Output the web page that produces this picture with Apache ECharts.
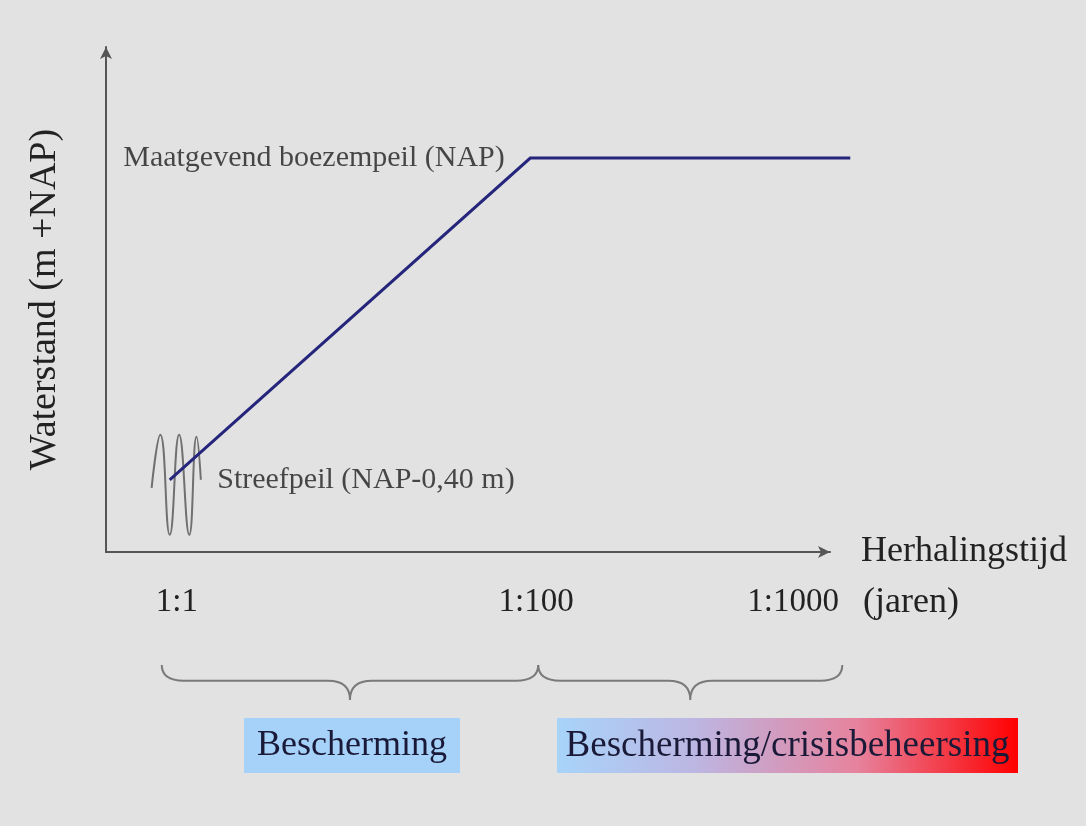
<!DOCTYPE html>
<html>
<head>
<meta charset="utf-8">
<script src="https://cdn.jsdelivr.net/npm/echarts@6/dist/echarts.min.js"></script>
<style>
  html, body { margin: 0; padding: 0; background: #e2e2e2; }
  #chart { width: 1086px; height: 826px; }
</style>
</head>
<body>
<div id="chart"></div>
<script>
(function () {
  'use strict';

  // x in abstract "herhalingstijd" position units (0..100 along the axis), y in level units (0..100)
  var TICK_VALUES = [9.8, 59.4, 94.9];
  var TICK_LABELS = ['1:1', '1:100', '1:1000'];

  var LEVEL_X = [8.8, 58.6, 102.8];
  var LEVEL_Y = [14.3, 78.0, 78.0];
  var LEVEL_LABELS = ['Streefpeil (NAP-0,40 m)', 'Maatgevend boezempeil (NAP)'];

  var WAVE_X = [6.3, 7.5, 8.8, 10.1, 11.5, 12.5, 13.1];
  var WAVE_Y = [12.7, 23.2, 3.4, 23.2, 3.4, 22.8, 14.3];

  var BRACE_SPANS = [[7.7, 59.7], [59.7, 101.7]];
  var BRACE_Y = [-22.4, -25.5, -29.3]; // ends, bar, tip

  var PHASES = ['Bescherming', 'Bescherming/crisisbeheersing'];

  var SERIF = '"Liberation Serif", "DejaVu Serif", serif';
  var AXIS = '#555';
  var TEXT = '#222';

  var chart = echarts.init(document.getElementById('chart'), null, { renderer: 'canvas' });

  var levelData = LEVEL_X.map(function (x, i) { return [x, LEVEL_Y[i]]; });
  var waveData = WAVE_X.map(function (x, i) { return [x, WAVE_Y[i]]; });
  var labelData = LEVEL_LABELS.map(function (txt, i) {
    return {
      value: [LEVEL_X[i], LEVEL_Y[i]],
      label: i === 0
        ? { show: true, position: 'right', distance: 47, formatter: txt }
        : { show: true, position: 'left', distance: 25, formatter: txt },
    };
  });

  // level line: one polyline through all points (runs past the axis arrow, so no clipping)
  function renderLevel(params, api) {
    if (params.dataIndex !== 0) return null;
    var pts = levelData.map(function (p) { return api.coord(p); });
    return {
      type: 'polyline',
      shape: { points: pts },
      style: { fill: null, stroke: '#25257c', lineWidth: 3, lineJoin: 'miter' },
    };
  }

  // curly brace under the x axis, from the scale
  function renderBrace(params, api) {
    var a = api.coord([api.value(0), BRACE_Y[0]]);
    var b = api.coord([api.value(1), BRACE_Y[0]]);
    var barY = api.coord([0, BRACE_Y[1]])[1];
    var tipY = api.coord([0, BRACE_Y[2]])[1];
    var m = (a[0] + b[0]) / 2;
    var r = 22;
    var d = 'M' + a[0] + ' ' + a[1] +
      ' Q' + a[0] + ' ' + barY + ' ' + (a[0] + r) + ' ' + barY +
      ' L' + (m - r) + ' ' + barY +
      ' Q' + m + ' ' + barY + ' ' + m + ' ' + tipY +
      ' Q' + m + ' ' + barY + ' ' + (m + r) + ' ' + barY +
      ' L' + (b[0] - r) + ' ' + barY +
      ' Q' + b[0] + ' ' + barY + ' ' + b[0] + ' ' + b[1];
    return {
      type: 'path',
      shape: { pathData: d },
      style: { fill: null, stroke: '#7a7a7a', lineWidth: 2 },
    };
  }

  chart.setOption({
    backgroundColor: '#e2e2e2',
    animation: false,
    grid: { left: 106, top: 47, right: 256, bottom: 274, containLabel: false },
    xAxis: {
      type: 'value', min: 0, max: 100,
      name: 'Herhalingstijd', nameLocation: 'end', nameGap: 31,
      nameTextStyle: { fontFamily: SERIF, fontSize: 36, color: TEXT },
      axisLine: { show: true, symbol: ['none', 'arrow'], symbolSize: [9, 12], lineStyle: { color: AXIS, width: 2 } },
      axisTick: { show: false },
      splitLine: { show: false },
      axisLabel: {
        customValues: TICK_VALUES,
        margin: 34,
        fontFamily: SERIF, fontSize: 33, color: TEXT,
        formatter: function (v) {
          var i = TICK_VALUES.indexOf(v);
          return i >= 0 ? TICK_LABELS[i] : '';
        },
      },
    },
    yAxis: {
      type: 'value', min: 0, max: 100,
      name: 'Waterstand (m +NAP)', nameLocation: 'middle', nameGap: 42,
      nameTextStyle: { fontFamily: SERIF, fontSize: 38, color: TEXT },
      axisLine: { show: true, symbol: ['none', 'arrow'], symbolSize: [9, 12], lineStyle: { color: AXIS, width: 2 } },
      axisTick: { show: false },
      axisLabel: { show: false },
      splitLine: { show: false },
    },
    series: [
      {
        type: 'line', name: 'golf', data: waveData, smooth: 0.5, clip: false,
        symbol: 'none', lineStyle: { color: '#707070', width: 2 }, z: 2,
      },
      {
        type: 'custom', name: 'peil', data: levelData, clip: false,
        renderItem: renderLevel, silent: true, z: 3,
      },
      {
        type: 'scatter', name: 'labels', data: labelData, symbolSize: 1, clip: false,
        itemStyle: { color: 'transparent' },
        label: { fontFamily: SERIF, fontSize: 30, color: '#1e1e1e' },
        z: 4,
      },
      {
        type: 'custom', name: 'accolades', data: BRACE_SPANS, clip: false,
        renderItem: renderBrace, silent: true, z: 2,
      },
    ],
  });

  var axisEnd = chart.convertToPixel({ gridIndex: 0 }, [100, 0]);
  var graphics = [];
  graphics.push({
    type: 'text', x: axisEnd[0] + 33, y: axisEnd[1] + 51,
    style: { text: '(jaren)', fontFamily: SERIF, fontSize: 36, fill: TEXT, verticalAlign: 'middle', align: 'left' },
  });

  var boxes = [
    { x: 244, w: 216, fill: '#a6d2fa', size: 36 },
    {
      x: 557, w: 461, size: 37,
      fill: {
        type: 'linear', x: 0, y: 0, x2: 1, y2: 0,
        colorStops: [
          { offset: 0, color: '#a8d4fa' },
          { offset: 0.3, color: '#bcb6e2' },
          { offset: 0.65, color: '#e6839e' },
          { offset: 1, color: '#ff0000' },
        ],
      },
    },
  ];
  boxes.forEach(function (bx, i) {
    graphics.push({
      type: 'rect', shape: { x: bx.x, y: 718, width: bx.w, height: 55 },
      style: { fill: bx.fill },
    });
    graphics.push({
      type: 'text', x: bx.x + bx.w / 2, y: 746,
      style: { text: PHASES[i], fontFamily: SERIF, fontSize: bx.size, fill: '#1a1a38', align: 'center', verticalAlign: 'middle' },
    });
  });

  chart.setOption({ graphic: graphics });
})();
</script>
</body>
</html>
